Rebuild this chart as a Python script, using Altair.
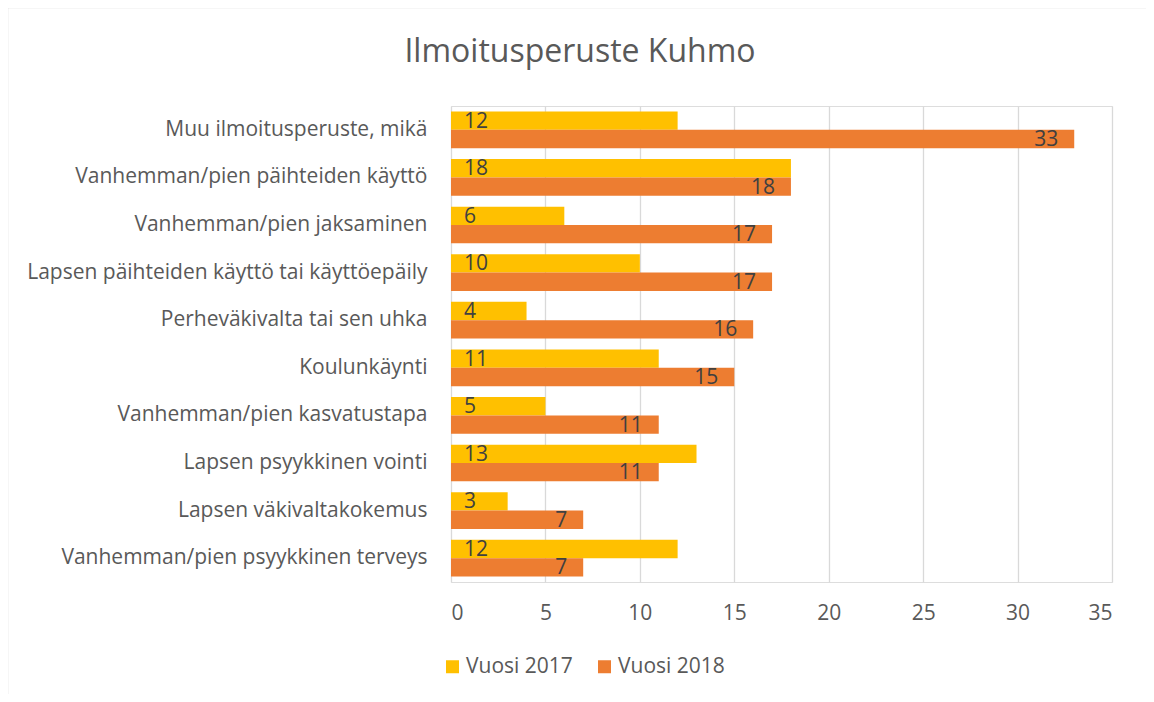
import altair as alt
import pandas as pd

title_text = "Ilmoitusperuste Kuhmo"
categories = [
    "Muu ilmoitusperuste, mikä",
    "Vanhemman/pien päihteiden käyttö",
    "Vanhemman/pien jaksaminen",
    "Lapsen päihteiden käyttö tai käyttöepäily",
    "Perheväkivalta tai sen uhka",
    "Koulunkäynti",
    "Vanhemman/pien kasvatustapa",
    "Lapsen psyykkinen vointi",
    "Lapsen väkivaltakokemus",
    "Vanhemman/pien psyykkinen terveys",
]
series = ["Vuosi 2017", "Vuosi 2018"]
values_2017 = [12, 18, 6, 10, 4, 11, 5, 13, 3, 12]
values_2018 = [33, 18, 17, 17, 16, 15, 11, 11, 7, 7]
colors = ["#FFC000", "#ED7D31"]

rows = []
for c, a, b in zip(categories, values_2017, values_2018):
    rows.append({"cat": c, "series": series[0], "value": a})
    rows.append({"cat": c, "series": series[1], "value": b})
df = pd.DataFrame(rows)

FONT = "Open Sans"
FS = 21

y_enc = alt.Y("cat:N", sort=categories, title=None,
              scale=alt.Scale(paddingInner=0.23, paddingOuter=0.115),
              axis=alt.Axis(ticks=False, domain=False, grid=False, labelPadding=24,
                            labelFontSize=FS, labelColor="#595959", labelFont=FONT,
                            labelLimit=500))
yoff = alt.YOffset("series:N", sort=series, scale=alt.Scale(paddingInner=0, paddingOuter=0))

base = alt.Chart(df).encode(y=y_enc, yOffset=yoff)

bars = base.mark_bar().encode(
    x=alt.X("value:Q", title=None,
            scale=alt.Scale(domain=[0, 35], nice=False),
            axis=alt.Axis(values=[0, 5, 10, 15, 20, 25, 30, 35], ticks=False, domain=False,
                          grid=True, gridColor="#D9D9D9", gridWidth=1.3,
                          labelFontSize=FS, labelColor="#595959", labelFont=FONT,
                          labelPadding=20)),
    color=alt.Color("series:N", sort=series,
                    scale=alt.Scale(domain=series, range=colors),
                    legend=alt.Legend(title=None, orient="none", direction="horizontal",
                                      legendX=-9, legendY=550,
                                      symbolType="square", symbolSize=169,
                                      symbolStrokeWidth=0,
                                      labelFontSize=FS, labelColor="#595959", labelFont=FONT,
                                      labelOffset=3, columnPadding=21)),
)

labels17 = base.transform_filter(alt.datum.series == series[0]).mark_text(
    align="left", baseline="middle", dx=13, dy=1, fontSize=FS, color="#404040", font=FONT
).encode(x=alt.datum(0), text="value:Q")

labels18 = base.transform_filter(alt.datum.series == series[1]).mark_text(
    align="right", baseline="middle", dx=-16, dy=1, fontSize=FS, color="#404040", font=FONT
).encode(x="value:Q", text="value:Q")

# chart-area frame (decoration)
frame = alt.Chart(pd.DataFrame({"f": [0]})).mark_rect(
    filled=False, stroke="#D9D9D9", strokeWidth=1.5
).encode(x=alt.value(-443.5), x2=alt.value(701), y=alt.value(-98.5), y2=alt.value(640))

# chart title as a text mark centred on the chart area
title = alt.Chart(pd.DataFrame({"t": [title_text]})).mark_text(
    align="center", baseline="middle", fontSize=32, font=FONT, color="#595959"
).encode(x=alt.value(129), y=alt.value(-54), text="t:N")

chart = alt.layer(frame, bars, labels17, labels18, title).properties(
    width=661, height=476,
    autosize=alt.AutoSizeParams(type="none"),
    padding={"left": 443, "top": 98, "right": 34, "bottom": 112},
).configure_view(strokeWidth=0, stroke="transparent").configure(background="white")

chart.save("out.html", embed_options={"renderer": "svg", "actions": False})
